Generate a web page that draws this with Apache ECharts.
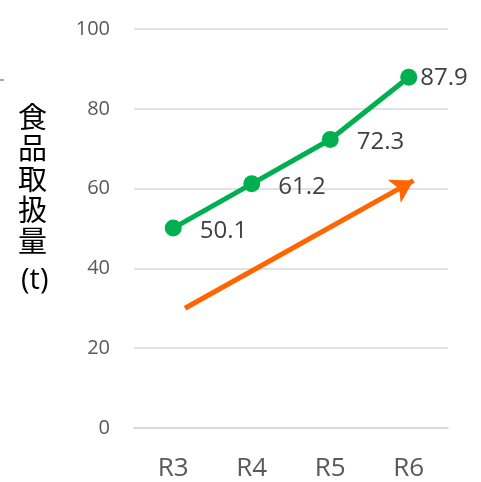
<!DOCTYPE html>
<html><head><meta charset="utf-8">
<script src="https://cdn.jsdelivr.net/npm/echarts@6/dist/echarts.min.js"></script>
<style>html,body{margin:0;padding:0;background:#fff}#c{width:481px;height:482px}</style>
</head><body><div id="c"></div>
<script>
const categories = ['R3', 'R4', 'R5', 'R6'];
const values = [50.1, 61.2, 72.3, 87.9];
const yTicks = [0, 20, 40, 60, 80, 100];
// trend arrow (annotation) in [category position, value]
const arrowStart = [0.15, 30];
const arrowEnd = [3.06, 62];
const labelOffsets = [[13, 3], [13, 3], [13, 3], [-2, 1]];

const chart = echarts.init(document.getElementById('c'));
chart.setOption({
  animation: false,
  grid: { left: 134, right: 33, top: 29, bottom: 54 },
  xAxis: [{
    type: 'category', data: categories, boundaryGap: true,
    axisLine: { lineStyle: { color: '#D9D9D9', width: 1.5 } },
    axisTick: { length: 9, lineStyle: { color: '#D9D9D9', width: 1.5 } },
    axisLabel: { color: '#595959', fontSize: 26, margin: 28, fontFamily: 'Open Sans, Noto Sans' }
  }, {
    type: 'value', min: -0.5, max: 3.5, show: false
  }],
  yAxis: {
    type: 'value', min: yTicks[0], max: yTicks[yTicks.length - 1], interval: 20,
    axisLine: { show: false }, axisTick: { show: false },
    splitLine: { lineStyle: { color: '#D9D9D9', width: 1.5 } },
    axisLabel: { color: '#595959', fontSize: 20, margin: 24, fontFamily: 'Open Sans, Noto Sans' }
  },
  series: [{
    type: 'line', data: values.map((v, i) => ({
      value: v, label: { offset: labelOffsets[i] }
    })),
    lineStyle: { color: '#00B050', width: 5 },
    itemStyle: { color: '#00B050' },
    symbol: 'circle', symbolSize: 17,
    label: { show: true, position: 'right', color: '#404040', fontSize: 24, fontFamily: 'Open Sans, Noto Sans' },
    z: 3
  }, {
    type: 'line', xAxisIndex: 1, data: [], silent: true,
    markLine: {
      silent: true, symbol: ['none', 'arrow'], symbolSize: [20, 22],
      label: { show: false },
      lineStyle: { color: '#FF6600', width: 5, type: 'solid' },
      data: [[{ coord: arrowStart }, { coord: arrowEnd }]]
    }
  }],
  graphic: [{
    type: 'text', left: 18, top: 101,
    style: { text: '食\n品\n取\n扱\n量', fontSize: 29, lineHeight: 31, fill: '#000', fontFamily: 'Noto Sans CJK JP' }
  }, {
    type: 'text', left: 21, top: 266,
    style: { text: '(t)', fontSize: 29, fill: '#000', fontFamily: 'Open Sans, Noto Sans' }
  }, {
    type: 'line', shape: { x1: 0, y1: 80, x2: 4, y2: 80 }, style: { stroke: '#555', lineWidth: 1 }
  }]
});
</script></body></html>
